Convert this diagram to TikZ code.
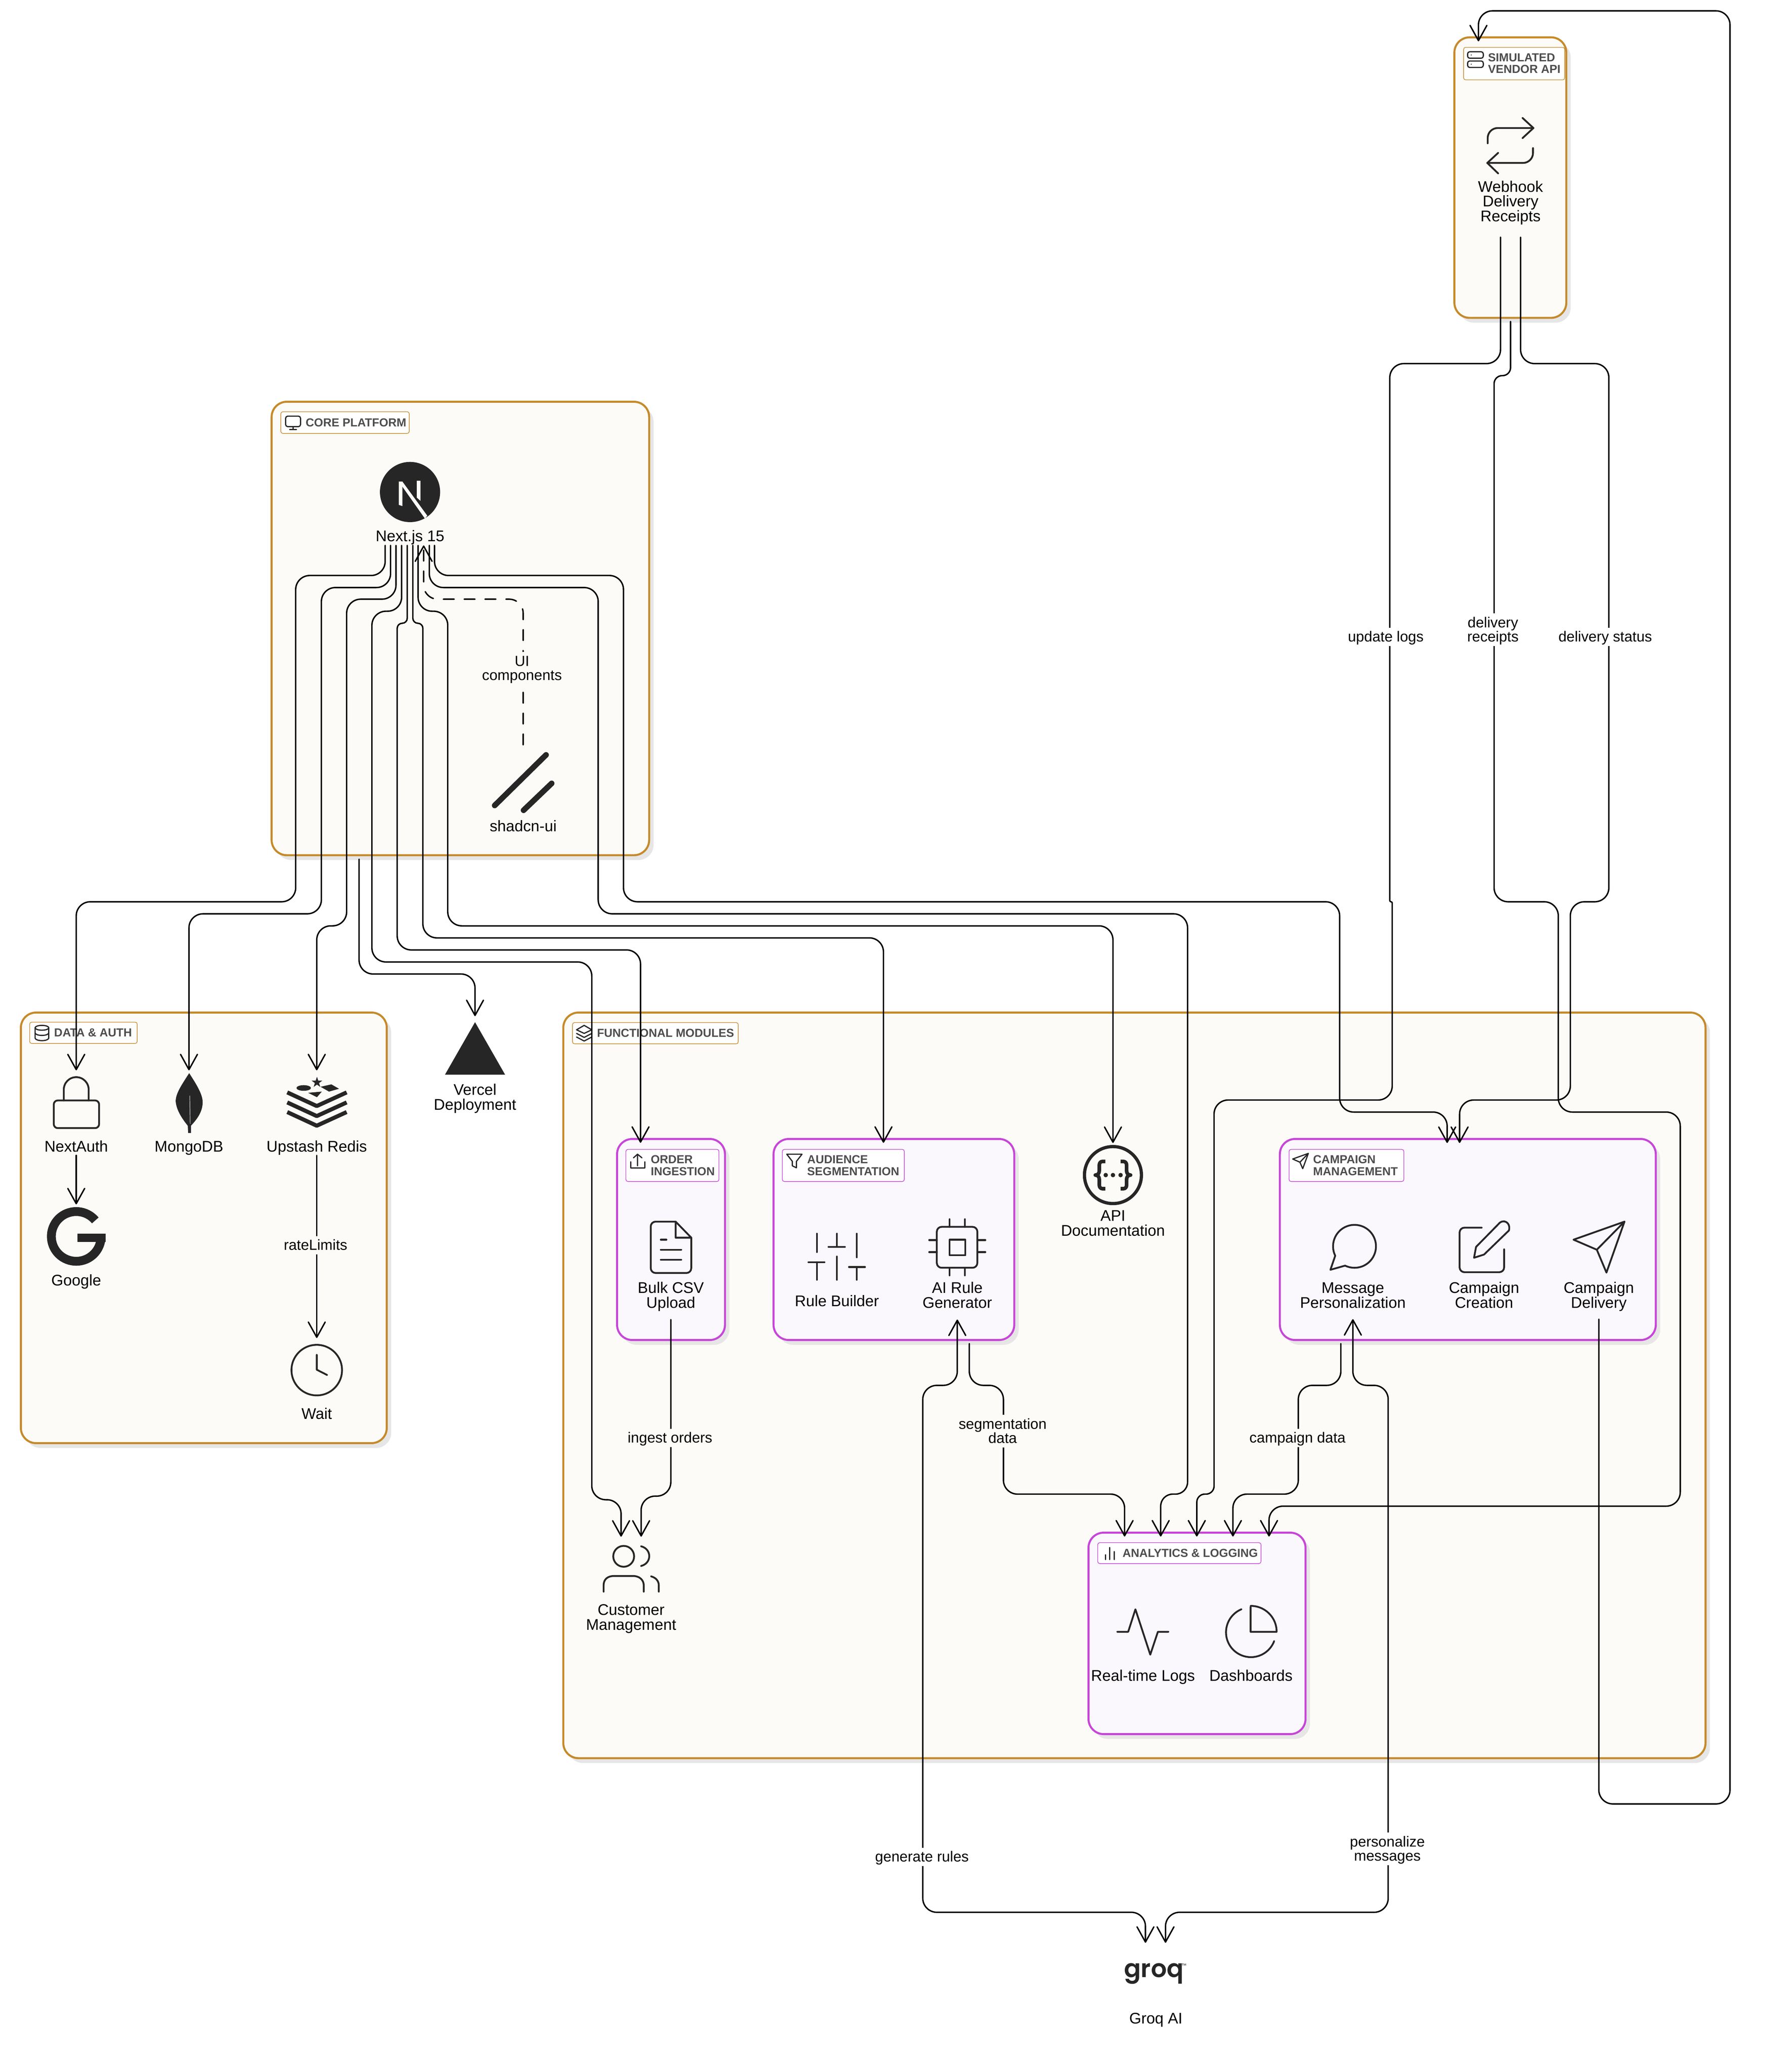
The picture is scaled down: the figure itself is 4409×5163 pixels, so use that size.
\documentclass[tikz,border=0pt]{standalone}
\usepackage{fontspec}
\setmainfont{Liberation Sans}
\newfontfamily\groqf{Poppins SemiBold}
\usetikzlibrary{arrows.meta,calc}
\definecolor{ink}{HTML}{262626}
\definecolor{graytxt}{HTML}{4D4D4D}
\definecolor{shadowc}{HTML}{E6E6E6}
\definecolor{amberl}{HTML}{C58A2B}
\definecolor{creamf}{HTML}{FCFBF7}
\definecolor{magl}{HTML}{C746D8}
\definecolor{lilacf}{HTML}{FBF8FD}
\tikzset{
  outerg/.style={draw=amberl,fill=creamf,line width=1pt,rounded corners=7.6pt,inner sep=0pt,outer sep=0pt},
  innerg/.style={draw=magl,fill=lilacf,line width=1pt,rounded corners=7.6pt,inner sep=0pt,outer sep=0pt},
  tagbox/.style={draw=#1,fill=white,line width=0.3pt,rounded corners=1pt,inner sep=0pt,outer sep=0pt},
  tagtext/.style={font=\fontsize{5.8}{5.8}\selectfont\bfseries,text=graytxt,align=left,anchor=west,inner sep=0pt},
  nl/.style={font=\fontsize{7.7}{7.35}\selectfont,align=center,inner sep=0pt,text=black,text height=6pt,text depth=0.8pt},
  nltwo/.style={nl,text height=13.35pt},
  nlthree/.style={nl,text height=20.7pt},
  el/.style={font=\fontsize{7.3}{7}\selectfont,align=center,inner xsep=0.6pt,inner ysep=1pt,text=black,text height=6pt,text depth=1.2pt},
  eltwo/.style={el,text height=13pt},
  cn/.style={draw=black,line width=0.7pt,rounded corners=7pt,line cap=round,line join=round},
  ah/.style={-{Straight Barb[round,length=7.6pt,width=8.4pt]}},
  ahh/.style={{Straight Barb[round,length=7.6pt,width=8.4pt]}-{Straight Barb[round,length=7.6pt,width=8.4pt]}},
  ic/.style={draw=ink,line width=0.9pt,line cap=round,line join=round},
  ics/.style={draw=ink,line width=0.6pt,line cap=round,line join=round},
}
\newcommand{\panel}[6]{%
  \fill[shadowc,rounded corners=7.6pt] (#2+11,#3+12) rectangle (#4+11,#5+12);
  \node[#6,minimum width={(#4-#2)*0.2pt},minimum height={(#5-#3)*0.2pt}] (#1) at ({(#2+#4)/2},{(#3+#5)/2}) {};}
\newcommand{\tagb}[6]{%
  \node[tagbox=#6,minimum width={(#4-#2)*0.2pt},minimum height={(#5-#3)*0.2pt}] (#1) at ({(#2+#4)/2},{(#3+#5)/2}) {};}
\begin{document}
\begin{tikzpicture}[x=0.2pt,y=-0.2pt]
\useasboundingbox (0,0) rectangle (4409,5163);
\fill[white] (0,0) rectangle (4409,5163);

% ---------- panels
\panel{vendor}{3625}{93}{3904}{792}{outerg}
\panel{core}{677}{1001}{1618}{2131}{outerg}
\panel{dataauth}{52}{2523}{964}{3596}{outerg}
\panel{modules}{1404}{2523}{4251}{4381}{outerg}
\panel{order}{1538}{2838}{1807}{3339}{innerg}
\panel{audience}{1928}{2838}{2528}{3339}{innerg}
\panel{campaign}{3190}{2838}{4127}{3339}{innerg}
\panel{analytics}{2713}{3819}{3254}{4321}{innerg}

% ---------- panel tags
\tagb{tagvendor}{3648}{118}{3900}{199}{amberl}
\node[tagtext] (tagvendort) at (3708,158) {SIMULATED\\VENDOR API};
\tagb{tagcore}{700}{1026}{1020}{1080}{amberl}
\node[tagtext] (tagcoret) at (761,1053) {CORE PLATFORM};
\tagb{tagdata}{74}{2547}{342}{2600}{amberl}
\node[tagtext] (tagdatat) at (134,2573) {DATA \& AUTH};
\tagb{tagmod}{1427}{2548}{1840}{2601}{amberl}
\node[tagtext] (tagmodt) at (1487,2574) {FUNCTIONAL MODULES};
\tagb{tagorder}{1560}{2864}{1792}{2944}{magl}
\node[tagtext] (tagordert) at (1621,2904) {ORDER\\INGESTION};
\tagb{tagaud}{1950}{2864}{2254}{2944}{magl}
\node[tagtext] (tagaudt) at (2011,2904) {AUDIENCE\\SEGMENTATION};
\tagb{tagcamp}{3213}{2864}{3499}{2944}{magl}
\node[tagtext] (tagcampt) at (3272,2904) {CAMPAIGN\\MANAGEMENT};
\tagb{tagana}{2736}{3844}{3143}{3896}{magl}
\node[tagtext] (taganat) at (2797,3870) {ANALYTICS \& LOGGING};

% ---------- tag icons
\draw[ics,rounded corners=1pt] (712,1037) rectangle (749,1063);
\draw[ics] (730.5,1063)--(730.5,1070) (722,1070)--(739,1070);
\draw[ics,rounded corners=1pt] (3658,129) rectangle (3697,145);
\draw[ics,rounded corners=1pt] (3658,152) rectangle (3697,168);
\fill[ink] (3667,137) circle[radius=1.5] (3667,160) circle[radius=1.5];
\draw[ics] (104.5,2561) ellipse[x radius=17,y radius=6];
\draw[ics] (87.5,2561)--(87.5,2587) .. controls (90,2595) and (119,2595) .. (121.5,2587)--(121.5,2561);
\draw[ics] (87.5,2574) .. controls (90,2582) and (119,2582) .. (121.5,2574);
\draw[ics] (1456,2555)--(1475,2566)--(1456,2575)--(1437,2566)--cycle;
\draw[ics] (1437,2575)--(1456,2585)--(1475,2575);
\draw[ics] (1437,2584)--(1456,2594)--(1475,2584);
\draw[ics] (1589,2905)--(1589,2876) (1579,2885)--(1589,2876)--(1600,2885);
\draw[ics] (1572,2895)--(1572,2910)--(1607,2910)--(1607,2895);
\draw[ics] (1961,2876)--(1999,2876)--(1985,2894)--(1985,2910)--(1975,2905)--(1975,2894)--cycle;
\draw[ics] (3261,2874)--(3222,2888)--(3240,2896)--(3247,2912)--cycle (3240,2896)--(3261,2874);
\draw[ics] (2755,3874)--(2755,3886) (2766,3856)--(2766,3886) (2777,3866)--(2777,3886);

% ---------- icons
% Next.js
\fill[ink] (1022,1226) circle[radius=75];
\begin{scope}
\clip (1022,1226) circle[radius=75];
\fill[creamf] (994,1200)--(1003,1200)--(1003,1261)--(994,1258)--cycle;
\fill[creamf] (1039,1198)--(1048,1198)--(1048,1248)--(1039,1240)--cycle;
\fill[creamf] (994,1200)--(1003,1200)--(1065,1285)--(1059,1292)--cycle;
\end{scope}
% shadcn
\draw[ink,line width=2.8pt,line cap=round] (1233,2007)--(1361,1881);
\draw[ink,line width=2.8pt,line cap=round] (1305,2019)--(1375,1952);
% webhook
\draw[ic,rounded corners=5pt] (3708,357)--(3708,319)--(3822,319);
\draw[ic] (3795,294)--(3822,319)--(3795,344);
\draw[ic,rounded corners=5pt] (3821,369)--(3821,406)--(3707,406);
\draw[ic] (3734,381)--(3707,406)--(3734,432);
% lock
\draw[ic,rounded corners=2pt] (134,2742) rectangle (247,2811);
\draw[ic] (159,2742)--(159,2715) arc[start angle=-180,end angle=0,radius=31]--(221,2742);
% mongo
\fill[ink] (471.5,2674) .. controls (455,2700) and (437,2725) .. (438,2745) .. controls (440,2770) and (460,2795) .. (468,2805) -- (469,2823) -- (476,2823) -- (476,2805) .. controls (490,2790) and (506,2770) .. (505,2745) .. controls (505,2725) and (485,2695) .. (471.5,2674) -- cycle;
\draw[creamf,line width=0.2pt] (473,2730)--(474,2800);
% redis
\fill[ink] (757,2711) ellipse[x radius=18,y radius=7];
\fill[ink] (790,2683)--(793.2,2692.6)--(803.3,2692.7)--(795.2,2698.7)--(798.2,2708.3)--(790,2702.5)--(781.8,2708.3)--(784.8,2698.7)--(776.7,2692.7)--(786.8,2692.6)--cycle;
\fill[ink] (799,2708)--(826,2702)--(845,2713)--(820,2720)--cycle;
\fill[ink] (768,2723)--(802,2720)--(790,2734)--cycle;
\draw[ink,line width=2pt,line join=round] (716,2722)--(789.5,2756)--(864,2722);
\draw[ink,line width=2pt,line join=round] (716,2747)--(789.5,2781)--(864,2747);
\draw[ink,line width=2pt,line join=round] (716,2771)--(789.5,2805)--(864,2771);
% google
\draw[ink,line width=4.4pt] (237.5,3041) arc[start angle=-40,end angle=-360,radius=62];
\fill[ink] (193,3074) rectangle (263,3095);
% clock
\draw[ic] (789.5,3414) circle[radius=63];
\draw[ic] (789.5,3376)--(789.5,3413)--(815,3426);
% vercel
\fill[ink] (1184,2547)--(1259,2678)--(1109,2678)--cycle;
% doc
\draw[ic,rounded corners=2.4pt] (1684,3044)--(1622,3044)--(1622,3172)--(1723,3172)--(1723,3084);
\draw[ic] (1684,3044)--(1723,3084)--(1684,3084)--cycle;
\draw[ic] (1647,3089)--(1661,3089) (1647,3114)--(1698,3114) (1647,3139)--(1698,3139);
% sliders
\draw[ic] (2036,3074)--(2036,3120) (2036,3145)--(2036,3189) (2015,3145)--(2055,3145);
\draw[ic] (2086,3074)--(2086,3107) (2086,3131)--(2086,3189) (2065,3107)--(2106,3107);
\draw[ic] (2135.5,3074)--(2135.5,3133) (2135.5,3157)--(2135.5,3189) (2116,3157)--(2156,3157);
% chip
\draw[ic,rounded corners=2.4pt] (2335,3057) rectangle (2436,3159);
\draw[ic] (2367,3089) rectangle (2406,3128);
\draw[ic] (2367,3038)--(2367,3057) (2405,3038)--(2405,3057) (2367,3159)--(2367,3178) (2405,3159)--(2405,3178);
\draw[ic] (2316,3090)--(2335,3090) (2316,3120)--(2335,3120) (2436,3090)--(2456,3090) (2436,3120)--(2456,3120);
% api
\draw[ink,line width=1.6pt] (2774,2928) circle[radius=71];
\fill[ink] (2756,2928) circle[radius=5.5] (2774,2928) circle[radius=5.5] (2793,2928) circle[radius=5.5];
\draw[ink,line width=1.8pt,line join=round] (2755,2894)--(2748,2894) .. controls (2743,2894) and (2740,2898) .. (2740,2903)--(2740,2917) .. controls (2740,2923) and (2737,2928) .. (2730,2928) .. controls (2737,2928) and (2740,2933) .. (2740,2939)--(2740,2953) .. controls (2740,2958) and (2743,2962) .. (2748,2962)--(2755,2962);
\draw[ink,line width=1.8pt,line join=round] (2793,2894)--(2800,2894) .. controls (2805,2894) and (2808,2898) .. (2808,2903)--(2808,2917) .. controls (2808,2923) and (2811,2928) .. (2818,2928) .. controls (2811,2928) and (2808,2933) .. (2808,2939)--(2808,2953) .. controls (2808,2958) and (2805,2962) .. (2800,2962)--(2793,2962);
% bubble
\draw[ic] (3328,3129) arc[start angle=-206,end angle=116,radius=53.5]--(3316,3164)--cycle;
% edit
\draw[ic,rounded corners=2.4pt] (3693,3059)--(3638,3059)--(3638,3170)--(3749,3170)--(3749,3113);
\draw[ic] (3679,3107)--(3674,3134)--(3699,3126)--(3761,3066) .. controls (3766,3045) and (3746,3036) .. (3735,3050)--cycle;
% send
\draw[ic] (4049,3044)--(3922,3089)--(3980,3114)--(4004,3171)--cycle (3980,3114)--(4049,3044);
% pulse
\draw[ic] (2785,4066)--(2812,4066)--(2830,4010)--(2867,4123)--(2886,4066)--(2912,4066);
% pie
\draw[ic] (3094,4010) arc[start angle=-112.6,end angle=-339,radius=62];
\draw[ic] (3117,4004)--(3117,4066)--(3182,4066) arc[start angle=0,end angle=-90,radius=64.5];
% users
\draw[ic] (1554.5,3878) circle[radius=26];
\draw[ic] (1598,3853) .. controls (1625,3860) and (1625,3895) .. (1598,3902);
\draw[ic] (1504.5,3966)--(1504.5,3950) .. controls (1504.5,3935) and (1515,3927) .. (1530,3927)--(1578,3927) .. controls (1595,3927) and (1604.5,3938) .. (1604.5,3950)--(1604.5,3966);
\draw[ic] (1623,3928) .. controls (1635,3931) and (1642,3940) .. (1642,3950)--(1642,3966);
% groq logo
\node[font=\groqf\fontsize{12.4}{12.4}\selectfont,text=ink,anchor=base,inner sep=0pt] (groqlogo) at (2876,4927) {groq};
\node[font=\fontsize{2.6}{2.6}\selectfont,text=ink,inner sep=0pt] (groqtm) at (2951,4898) {™};

% ---------- node labels
\node[nl] (nextjs) at (1022,1336) {Next.js 15};
\node[nl] (shadcn) at (1304,2059) {shadcn-ui};
\node[nlthree] (webhook) at (3765,502) {Webhook\\Delivery\\Receipts};
\node[nl] (nextauth) at (190,2857) {NextAuth};
\node[nl] (mongo) at (471,2857) {MongoDB};
\node[nl] (redis) at (789.5,2857) {Upstash Redis};
\node[nl] (google) at (190,3191) {Google};
\node[nl] (wait) at (789.5,3523) {Wait};
\node[nltwo] (vercel) at (1184,2734) {Vercel\\Deployment};
\node[nltwo] (bulk) at (1672,3228) {Bulk CSV\\Upload};
\node[nl] (rulebuilder) at (2086,3242) {Rule Builder};
\node[nltwo] (airule) at (2386,3228) {AI Rule\\Generator};
\node[nltwo] (apidoc) at (2774,3048) {API\\Documentation};
\node[nltwo] (message) at (3372,3228) {Message\\Personalization};
\node[nltwo] (creation) at (3699,3228) {Campaign\\Creation};
\node[nltwo] (delivery) at (3985,3228) {Campaign\\Delivery};
\node[nl] (rtlogs) at (2849,4176) {Real-time Logs};
\node[nl] (dashboards) at (3118,4176) {Dashboards};
\node[nltwo] (customer) at (1573,4030) {Customer\\Management};
\node[nl] (groq) at (2881,5030) {Groq AI};

% ---------- connectors from Next.js
\draw[cn,ah] ($(nextjs)+(-62,23)$)--(960,1434)--(737,1434)--(737,2247)--(190,2247)--($(nextauth)+(0,-190)$);
\draw[cn,ah] ($(nextjs)+(-48.5,23)$)--(973.5,1464)--(801,1464)--(801,2277)--(471,2277)--($(mongo)+(0,-190)$);
\draw[cn,ah] ($(nextjs)+(-35,23)$)--(987,1493)--(864,1493)--(864,2307)--(789.5,2307)--($(redis)+(0,-190)$);
\draw[cn,ah] ($(nextjs)+(-21,23)$)--(1001,1523)--(927,1523)--(927,2397)--(1475,2397)--(1475,3737)--(1548,3737)--($(customer)+(-25,-201)$);
\draw[cn,ah] ($(nextjs)+(-7,23)$)[rounded corners=2.5pt]--(1015,1553)--(990,1553)--(990,1600)[rounded corners=7pt]--(990,2367)--(1596.5,2367)--($(order.north)+(-76,9.6)$);
\draw[cn,ah] ($(nextjs)+(7,23)$)[rounded corners=2.5pt]--(1029,1553)--(1054,1553)--(1054,1600)[rounded corners=7pt]--(1054,2337)--(2202,2337)--($(audience.north)+(-26,9.6)$);
\draw[cn,ah] ($(nextjs)+(20,23)$)--(1042,1523)--(1116,1523)--(1116,2307)--(2774,2307)--($(apidoc)+(0,-200)$);
\draw[cn,ah] ($(nextjs)+(48,23)$)--(1070,1464)--(1491,1464)--(1491,2277)--(2960,2277)--(2960,3650)[rounded corners=6pt]--(2960,3723)--(2893,3723)--($(analytics.north)+(-90.5,9.6)$);
\draw[cn,ah] ($(nextjs)+(61,23)$)--(1083,1434)--(1554,1434)--(1554,2247)--(3339,2247)--(3339,2771)--(3607,2771)--($(campaign.north)+(-51.5,10)$);
\draw[cn,ah,dashed,dash pattern=on 5.4pt off 5pt] ($(shadcn)+(0,-203)$)--(1304,1493)--(1056,1493)--($(nextjs)+(34,23)$);
\draw[cn,ah] ($(core.south)+(-252.5,10)$)--(895,2427)--(1184,2427)--($(vercel)+(0,-202)$);

% ---------- data & auth
\draw[cn,ah] ($(nextauth)+(0,22)$)--($(google)+(0,-190)$);
\draw[cn,ah] ($(redis)+(0,22)$)--($(wait)+(0,-189)$);

% ---------- functional modules
\draw[cn,ah] ($(bulk)+(0,60)$)--(1672,3728)--(1598,3728)--($(customer)+(25,-201)$);
\draw[cn,ah] ($(audience.south)+(188,9)$)--(2416,3452)--(2501,3452)--(2501,3723)--(2803,3723)--($(analytics.north)+(-180.5,9.6)$);
\draw[cn,ah] ($(campaign.south)+(-316.5,9)$)--(3342,3452)--(3236,3452)--(3236,3723)--(3073,3723)--($(analytics.north)+(89.5,9.6)$);
\draw[cn,ahh] ($(airule)+(0,60)$)--(2386,3452)--(2300,3452)--(2300,4765)--(2855,4765)--($(groq)+(-26,-189)$);
\draw[cn,ahh] ($(message)+(0,59)$)--(3372,3452)--(3460,3452)--(3460,4765)--(2905,4765)--($(groq)+(24,-189)$);

% ---------- vendor
\draw[cn,ah] ($(webhook)+(-25,89)$)--(3740,906)--(3464,906)--(3464,2100)[rounded corners=0.6pt]--(3464,2247)--(3470,2247)--(3470,2300)[rounded corners=7pt]--(3470,2741)--(3026,2741)--(3026,3650)[rounded corners=4pt]--(3026,3723)--(2983,3723)--($(analytics.north)+(-0.5,9.6)$);
\draw[cn,ah] ($(vendor.south)+(0.5,9)$)[rounded corners=4pt]--(3765,936)--(3724,936)--(3724,1000)[rounded corners=7pt]--(3724,2247)--(3884,2247)--(3884,2771)--(4188,2771)--(4188,3753)--(3163,3753)--($(analytics.north)+(179.5,9.6)$);
\draw[cn,ah] ($(webhook)+(25,89)$)--(3790,906)--(4010,906)--(4010,2247)--(3914,2247)--(3914,2741)--(3638,2741)--($(campaign.north)+(-20.5,10)$);
\draw[cn,ah] ($(delivery)+(0,59)$)--(3985,4495)--(4312,4495)--(4312,27)--(3685,27)--($(vendor.north)+(-79.5,10)$);

% ---------- edge labels
\node[eltwo,fill=creamf] (lblui) at (1301,1665) {UI\\components};
\node[el,fill=creamf] (lblrate) at (786.5,3103) {rateLimits};
\node[el,fill=creamf] (lblingest) at (1670,3583) {ingest orders};
\node[eltwo,fill=creamf] (lblseg) at (2499,3566) {segmentation\\data};
\node[el,fill=creamf] (lblcamp) at (3234,3583) {campaign data};
\node[el,fill=white] (lblgen) at (2298,4627) {generate rules};
\node[eltwo,fill=white] (lblpers) at (3458,4607) {personalize\\messages};
\node[el,fill=white] (lblupd) at (3454,1587) {update logs};
\node[eltwo,fill=white] (lblrec) at (3721,1569) {delivery\\receipts};
\node[el,fill=white] (lblstat) at (4001,1587) {delivery status};
\end{tikzpicture}
\end{document}
